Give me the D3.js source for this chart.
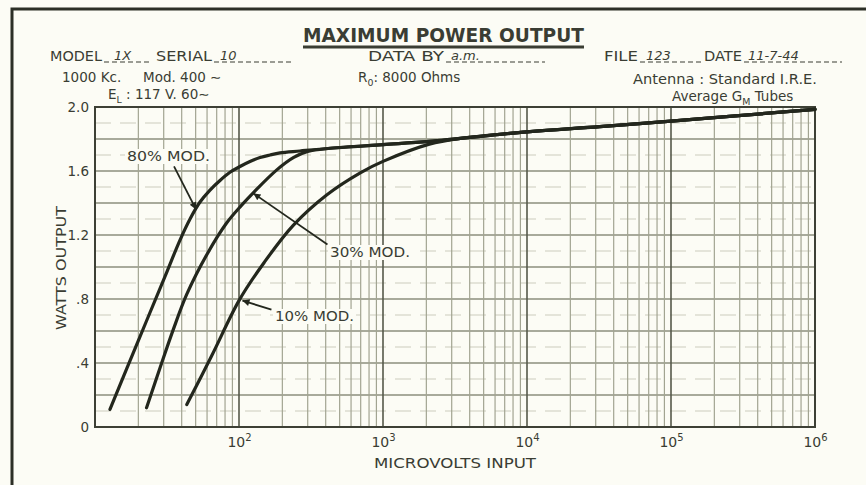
<!DOCTYPE html>
<html>
<head>
<meta charset="utf-8">
<script src="https://cdn.jsdelivr.net/npm/d3@7"></script>
<style>
  html, body { margin: 0; padding: 0; background: #fcfcf5; }
  svg { display: block; }
  text { font-family: "DejaVu Sans", sans-serif; fill: #3a3d33; }
</style>
</head>
<body>
<svg id="chart" width="866" height="485"></svg>
<script>
// ---- Data: power output (watts) against r.f. input (microvolts) ----
const mod80Input = [12.7, 20, 30.6, 39, 45.7, 53.6, 62.9, 73.8, 86.6, 101.6, 119.2, 139.9, 164.1, 192.6, 265, 430, 1000, 2100, 10000, 32000, 100000, 1000000];
const mod80Watts = [0.11, 0.54, 0.94, 1.17, 1.30, 1.406, 1.481, 1.541, 1.592, 1.628, 1.659, 1.684, 1.700, 1.713, 1.725, 1.742, 1.765, 1.785, 1.845, 1.877, 1.912, 1.985];

const mod30Input = [22.8, 28.3, 35, 43.4, 60, 82, 104, 126, 183, 240, 300, 430, 1000, 2100, 10000, 32000, 100000, 1000000];
const mod30Watts = [0.12, 0.37, 0.61, 0.83, 1.08, 1.275, 1.385, 1.465, 1.607, 1.685, 1.722, 1.742, 1.765, 1.785, 1.845, 1.877, 1.912, 1.985];

const mod10Input = [43.4, 65, 100, 150, 238, 406, 700, 1000, 2100, 3600, 10000, 32000, 100000, 1000000];
const mod10Watts = [0.14, 0.45, 0.79, 1.03, 1.26, 1.45, 1.59, 1.66, 1.768, 1.806, 1.845, 1.877, 1.912, 1.985];

const seriesNames = ["80% MOD.", "30% MOD.", "10% MOD."];
// point on each curve that its label arrow touches (microvolts, watts)
const arrowTipInput = [49.5, 124, 104];
const arrowTipWatts = [1.36, 1.46, 0.79];

const xTickExponents = [2, 3, 4, 5, 6];
const yTickValues = [0, 0.4, 0.8, 1.2, 1.6, 2.0];
const yTickLabels = ["0", ".4", ".8", "1.2", "1.6", "2.0"];

// ---- Layout ----
const W = 866, H = 485;
const plot = { left: 95, right: 815, top: 107, bottom: 427 };
const ink = "#3a3d33";
const curveInk = "#23271d";
const paper = "#fcfcf5";

const svg = d3.select("#chart");
svg.append("rect").attr("width", W).attr("height", H).attr("fill", paper);

const x = d3.scaleLog().domain([10, 1e6]).range([plot.left, plot.right]);
const y = d3.scaleLinear().domain([0, 2]).range([plot.bottom, plot.top]);

// sheet frame
svg.append("path")
  .attr("d", `M12,${H} V9 H${W}`)
  .attr("fill", "none").attr("stroke", "#2c2f26").attr("stroke-width", 3);

// ---- Grid ----
const grid = svg.append("g");
// half-step (0.1 W) rulings, faint and broken
grid.selectAll("line.hminor")
  .data(d3.range(1, 20, 2).map(i => i / 10))
  .join("line")
  .attr("x1", plot.left).attr("x2", plot.right)
  .attr("y1", d => y(d)).attr("y2", d => y(d))
  .attr("stroke", "#cbccbd").attr("stroke-width", 1.2)
  .attr("stroke-dasharray", "16,9");
// 0.2 W rulings
grid.selectAll("line.hmajor")
  .data(d3.range(1, 10).map(i => i / 5))
  .join("line")
  .attr("x1", plot.left).attr("x2", plot.right)
  .attr("y1", d => y(d)).attr("y2", d => y(d))
  .attr("stroke", "#8d8f7d").attr("stroke-width", 1.4);
// log rulings 2..9 in every decade
const logTicks = x.ticks();
grid.selectAll("line.vminor")
  .data(logTicks.filter(v => Math.abs(Math.log10(v) - Math.round(Math.log10(v))) > 1e-6))
  .join("line")
  .attr("x1", d => x(d)).attr("x2", d => x(d))
  .attr("y1", plot.top).attr("y2", plot.bottom)
  .attr("stroke", "#a2a491").attr("stroke-width", 1.2);
// decade rulings
grid.selectAll("line.vmajor")
  .data(xTickExponents.slice(0, -1).map(e => Math.pow(10, e)))
  .join("line")
  .attr("x1", d => x(d)).attr("x2", d => x(d))
  .attr("y1", plot.top).attr("y2", plot.bottom)
  .attr("stroke", "#55584a").attr("stroke-width", 1.6);
// plot border
svg.append("rect")
  .attr("x", plot.left).attr("y", plot.top)
  .attr("width", plot.right - plot.left).attr("height", plot.bottom - plot.top)
  .attr("fill", "none").attr("stroke", "#3d4035").attr("stroke-width", 2);

// ---- Axes labels ----
const yAxis = d3.axisLeft(y).tickValues(yTickValues)
  .tickFormat((d, i) => yTickLabels[i]).tickSize(0).tickPadding(6);
const yg = svg.append("g").attr("transform", `translate(${plot.left},0)`).call(yAxis);
yg.select(".domain").remove();
yg.selectAll("text").attr("font-size", 13.5).attr("fill", ink)
  .attr("font-family", "DejaVu Sans, sans-serif");

const xAxis = d3.axisBottom(x).tickValues(xTickExponents.map(e => Math.pow(10, e)))
  .tickFormat(() => "").tickSize(0);
const xg = svg.append("g").attr("transform", `translate(0,${plot.bottom})`).call(xAxis);
xg.select(".domain").remove();
xg.selectAll(".tick").each(function (d, i) {
  const t = d3.select(this).append("text")
    .attr("y", 20).attr("text-anchor", "middle")
    .attr("font-size", 14).attr("fill", ink)
    .attr("font-family", "DejaVu Sans, sans-serif");
  t.append("tspan").text("10");
  t.append("tspan").attr("dy", -6).attr("font-size", 10).text(xTickExponents[i]);
});

svg.append("text")
  .attr("x", 374).attr("y", 468)
  .attr("font-size", 13.5)
  .attr("textLength", 162).attr("lengthAdjust", "spacingAndGlyphs")
  .text("MICROVOLTS INPUT");

svg.append("text")
  .attr("transform", "translate(66,330) rotate(-90)")
  .attr("font-size", 13.5)
  .attr("textLength", 124).attr("lengthAdjust", "spacingAndGlyphs")
  .text("WATTS OUTPUT");

// ---- Curves ----
const series = [
  { name: seriesNames[0], input: mod80Input, watts: mod80Watts },
  { name: seriesNames[1], input: mod30Input, watts: mod30Watts },
  { name: seriesNames[2], input: mod10Input, watts: mod10Watts }
];
const line = d3.line()
  .x(d => x(d[0])).y(d => y(d[1]))
  .curve(d3.curveCatmullRom.alpha(0.5));
svg.append("g").selectAll("path")
  .data(series)
  .join("path")
  .attr("d", s => line(d3.zip(s.input, s.watts)))
  .attr("fill", "none").attr("stroke", curveInk)
  .attr("stroke-width", 3.2).attr("stroke-linecap", "round");

// ---- Curve labels with arrows ----
svg.append("defs").append("marker")
  .attr("id", "head").attr("viewBox", "0 0 10 10")
  .attr("refX", 10).attr("refY", 5)
  .attr("markerWidth", 10).attr("markerHeight", 7)
  .attr("markerUnits", "userSpaceOnUse")
  .attr("orient", "auto")
  .append("path").attr("d", "M0,0 L10,5 L0,10 Z").attr("fill", curveInk);

// tail offsets (px from tip) and text placement
const labelLayout = [
  { tail: [-22, -43], text: [127, 161], width: 83 },
  { tail: [74, 51], text: [330, 257], width: 80 },
  { tail: [29, 9], text: [275, 321], width: 79 }
];
const ann = svg.append("g");
series.forEach((s, i) => {
  const tx = x(arrowTipInput[i]) + 1, ty = y(arrowTipWatts[i]);
  const L = labelLayout[i];
  ann.append("line")
    .attr("x1", tx + L.tail[0]).attr("y1", ty + L.tail[1])
    .attr("x2", tx).attr("y2", ty)
    .attr("stroke", curveInk).attr("stroke-width", 1.8)
    .attr("marker-end", "url(#head)");
  ann.append("rect")
    .attr("x", L.text[0] - 2).attr("y", L.text[1] - 12)
    .attr("width", L.width + 4).attr("height", 15)
    .attr("fill", paper);
  ann.append("text")
    .attr("x", L.text[0]).attr("y", L.text[1])
    .attr("font-size", 14.5)
    .attr("textLength", L.width).attr("lengthAdjust", "spacingAndGlyphs")
    .text(s.name);
});

// ---- Heading block ----
const head = svg.append("g");
head.append("text")
  .attr("x", 303).attr("y", 42)
  .attr("font-size", 20).attr("font-weight", "bold")
  .attr("textLength", 281).attr("lengthAdjust", "spacingAndGlyphs")
  .text("MAXIMUM POWER OUTPUT");
head.append("line")
  .attr("x1", 303).attr("x2", 584).attr("y1", 47).attr("y2", 47)
  .attr("stroke", ink).attr("stroke-width", 3);

// printed form fields with hand-filled entries
const fields = [
  { label: "MODEL", lx: 50, lw: 52, value: "1X", vx: 114, end: 150 },
  { label: "SERIAL", lx: 156, lw: 56, value: "10", vx: 220, end: 292 },
  { label: "DATA BY", lx: 368, lw: 76, value: "a.m.", vx: 451, end: 545 },
  { label: "FILE", lx: 604, lw: 34, value: "123", vx: 646, end: 702 },
  { label: "DATE", lx: 704, lw: 38, value: "11-7-44", vx: 748, end: 842 }
];
const rowY = 61;
fields.forEach(f => {
  head.append("text").attr("x", f.lx).attr("y", rowY)
    .attr("font-size", 13.5)
    .attr("textLength", f.lw).attr("lengthAdjust", "spacingAndGlyphs")
    .text(f.label);
  head.append("line")
    .attr("x1", f.lx + f.lw + 2).attr("x2", f.end)
    .attr("y1", rowY + 1).attr("y2", rowY + 1)
    .attr("stroke", ink).attr("stroke-width", 1)
    .attr("stroke-dasharray", "5,3");
  head.append("text").attr("x", f.vx).attr("y", rowY - 1)
    .attr("font-size", 13).attr("font-style", "italic").attr("font-weight", 200)
    .attr("fill", "#55584c")
    .text(f.value);
});

// text runs with an optional subscript between them
function subText(xp, yp, parts, size, len) {
  const t = head.append("text").attr("x", xp).attr("y", yp).attr("font-size", size);
  if (len) t.attr("textLength", len).attr("lengthAdjust", "spacingAndGlyphs");
  let lowered = false;
  parts.forEach(p => {
    if (p.sub) {
      t.append("tspan").attr("dy", 4).attr("font-size", size * 0.7).text(p.sub);
      lowered = true;
    } else {
      const s = t.append("tspan").text(p.t);
      if (lowered) { s.attr("dy", -4); lowered = false; }
    }
  });
  return t;
}
subText(62, 82, [{ t: "1000 Kc." }], 13.5);
subText(143, 82, [{ t: "Mod. 400 ∼" }], 13.5);
subText(358, 82, [{ t: "R" }, { sub: "0" }, { t: ": 8000 Ohms" }], 13.5);
subText(633, 84, [{ t: "Antenna : Standard I.R.E." }], 13.5, 184);
subText(108, 99, [{ t: "E" }, { sub: "L" }, { t: " : 117 V. 60∼" }], 13.5);
subText(672, 101, [{ t: "Average G" }, { sub: "M" }, { t: " Tubes" }], 13.5);
</script>
</body>
</html>
